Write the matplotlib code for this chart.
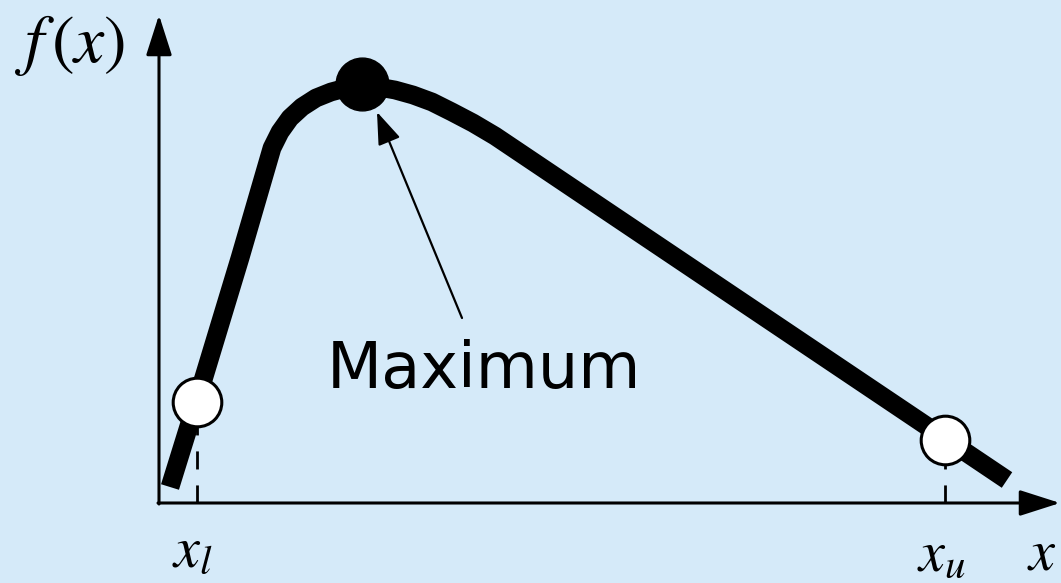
import matplotlib
matplotlib.use("Agg")
import matplotlib.pyplot as plt

plt.rcParams['mathtext.fontset'] = 'stix'
plt.rcParams['lines.scale_dashes'] = False

# curve f(x) (arbitrary units)
x = [11, 38, 81, 113, 121, 131, 143, 157, 172, 187, 203, 219, 236, 254,
     273, 293, 314, 336, 848]
f = [16, 103, 245, 355, 371, 385, 396, 405, 411, 415, 417, 416, 413, 408,
     401, 391, 380, 367, 23]

# bracket points and the maximum
x_lo, f_lo = 38, 101
x_up, f_up = 786, 63
x_max, f_max = 203, 419

bg = '#d5eaf9'

fig = plt.figure(figsize=(10.61, 5.83), dpi=100, facecolor=bg)
ax = fig.add_axes([0, 0, 1, 1])
ax.set_facecolor(bg)
ax.set_xlim(-159, 902)
ax.set_ylim(-80, 503)
ax.axis('off')

# axes with arrow heads
axis_arrow = dict(arrowstyle='-|>,head_length=1.0,head_width=0.32',
                  mutation_scale=25, lw=2.2, color='black',
                  shrinkA=0, shrinkB=0)
ax.annotate('', xy=(0, 488), xytext=(0, -1), arrowprops=axis_arrow)
ax.annotate('', xy=(901, 0), xytext=(-1, 0), arrowprops=axis_arrow)

# dashed drop lines from the bracket points
ax.plot([x_lo, x_lo], [0, f_lo - 25], color='black', lw=2,
        dashes=(13, 11.5), zorder=2)
ax.plot([x_up, x_up], [0, f_up - 25], color='black', lw=2,
        dashes=(13, 11.5), zorder=2)

# the function
ax.plot(x, f, color='black', lw=13.5, solid_capstyle='butt',
        solid_joinstyle='round', zorder=3)

# points
ax.plot([x_lo, x_up], [f_lo, f_up], 'o', ms=35, mfc='white', mec='black',
        mew=2.2, zorder=4)
ax.plot([x_max], [f_max], 'o', ms=38, color='black', zorder=4)

# annotation
ax.annotate('', xy=(218, 391), xytext=(303, 185),
            arrowprops=dict(arrowstyle='-|>,head_length=1.0,head_width=0.36',
                            mutation_scale=20, lw=1.6, color='black',
                            shrinkA=0, shrinkB=0))
ax.text(325, 115, 'Maximum', fontsize=46, ha='center', va='baseline',
        family='DejaVu Sans')

# labels
ax.text(-89, 458, r'$f\,(x)$', fontsize=49, ha='center', va='center')
ax.text(13, -64, '$x_l$', fontsize=42, ha='left', va='baseline')
ax.text(758, -68, '$x_u$', fontsize=42, ha='left', va='baseline')
ax.text(868, -66, '$x$', fontsize=42, ha='left', va='baseline')

fig.savefig('out.png', dpi=100, facecolor=bg)
